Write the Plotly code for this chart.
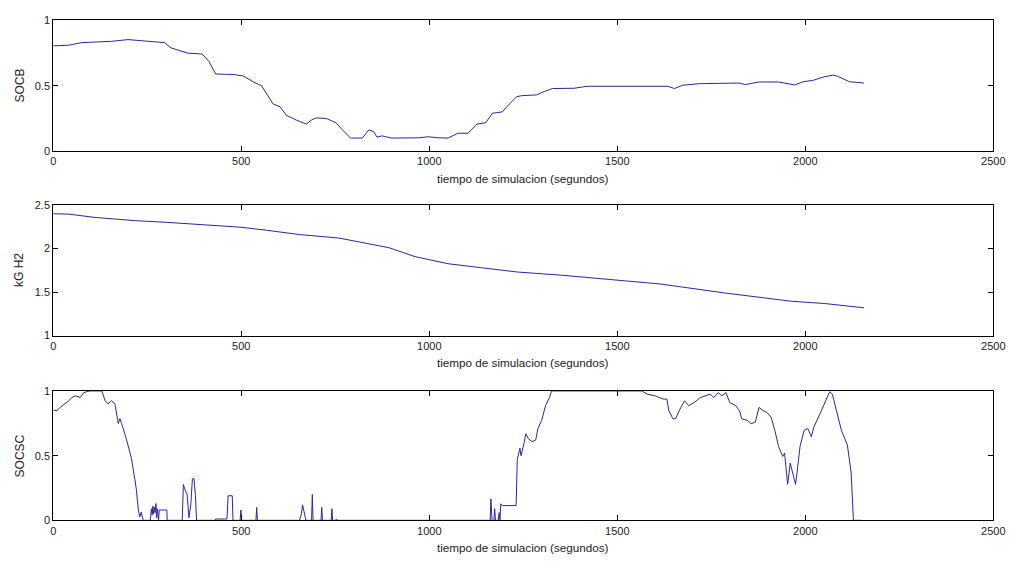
import plotly.graph_objects as go

# ---------------- data ----------------
t_socb = [0, 41, 76, 155, 199, 234, 296, 313, 357, 396, 414, 432, 480, 506, 532, 554, 568, 585, 603, 620,
          647, 673, 686, 699, 726, 752, 769, 791, 822, 839, 852, 861, 874, 900, 971, 997, 1024, 1050, 1076,
          1103, 1127, 1150, 1168, 1194, 1215, 1232, 1245, 1285, 1306, 1328, 1385, 1420, 1525, 1635, 1652,
          1674, 1718, 1771, 1824, 1841, 1876, 1929, 1972, 1994, 2020, 2051, 2073, 2086, 2117, 2156]
socb = [0.805, 0.81, 0.83, 0.84, 0.853, 0.845, 0.83, 0.79, 0.75, 0.743, 0.686, 0.59, 0.586, 0.574, 0.53,
        0.5, 0.44, 0.36, 0.34, 0.274, 0.237, 0.207, 0.237, 0.254, 0.25, 0.217, 0.162, 0.1, 0.1, 0.162, 0.15,
        0.107, 0.117, 0.1, 0.102, 0.11, 0.102, 0.1, 0.137, 0.137, 0.207, 0.217, 0.29, 0.3, 0.366, 0.416,
        0.424, 0.43, 0.456, 0.479, 0.481, 0.496, 0.496, 0.496, 0.479, 0.504, 0.516, 0.521, 0.521, 0.509,
        0.529, 0.529, 0.506, 0.531, 0.541, 0.569, 0.581, 0.573, 0.531, 0.521]

t_h2 = [0, 41, 111, 217, 304, 392, 497, 567, 655, 760, 813, 892, 962, 1006, 1050, 1137, 1234, 1350,
        1500, 1613, 1788, 1963, 2051, 2156]
kg_h2 = [2.399, 2.395, 2.357, 2.32, 2.30, 2.275, 2.245, 2.21, 2.16, 2.12, 2.076, 2.01, 1.907, 1.87,
         1.825, 1.78, 1.73, 1.694, 1.638, 1.593, 1.488, 1.394, 1.368, 1.319]

t_socsc = [0, 10, 19, 32, 41, 50, 59, 72, 81, 90, 98, 129, 138, 146, 155, 164, 173, 177, 182, 195, 208,
           217, 221, 226, 230, 234, 239,
           258, 261, 263, 265, 267, 269, 271, 273, 275, 277, 280, 282, 302, 303,
           343, 346, 350, 356, 361, 366, 370, 374, 378, 381,
           430, 432, 462, 465, 476, 478,
           497, 499, 501,
           539, 541, 543,
           655, 660, 663, 668, 672,
           687, 689, 691,
           712, 714, 716,
           739, 741, 743,
           750, 753, 756,
           1130, 1162, 1164, 1167, 1172, 1174, 1176, 1183, 1186, 1188, 1190, 1195, 1231,
           1234, 1241, 1244, 1252, 1257, 1263, 1273, 1283, 1289, 1299, 1309, 1320, 1325, 1565,
           1580, 1601, 1622, 1632, 1637, 1648, 1655, 1669, 1679, 1690, 1705, 1721, 1736, 1747, 1757,
           1768, 1778, 1789, 1799, 1815, 1825, 1831, 1846, 1856, 1867, 1877, 1888, 1898, 1909, 1919,
           1929, 1940, 1945, 1950, 1953, 1960, 1967, 1974, 1978, 1986, 1997, 2007, 2016, 2023, 2039,
           2055, 2065, 2072, 2086, 2096, 2112, 2122, 2128, 2150]
socsc = [0.85, 0.85, 0.874, 0.9, 0.924, 0.95, 0.962, 0.95, 0.987, 0.995, 1.0, 1.0, 0.924, 0.9, 0.924,
         0.9, 0.748, 0.786, 0.748, 0.622, 0.479, 0.315, 0.24, 0.088, 0.025, 0.063, 0,
         0, 0.09, 0.04, 0.11, 0.05, 0.1, 0.06, 0.13, 0.02, 0.09, 0.0, 0.08, 0.08, 0,
         0, 0.277, 0.24, 0.2, 0.02, 0.126, 0.32, 0.325, 0.2, 0,
         0, 0.01, 0.01, 0.19, 0.19, 0,
         0, 0.08, 0,
         0, 0.1, 0,
         0, 0.05, 0.12, 0.05, 0,
         0, 0.2, 0,
         0, 0.1, 0,
         0, 0.09, 0,
         0, 0.01, 0,
         0, 0, 0.165, 0, 0, 0.09, 0, 0, 0.06, 0, 0.127, 0.114, 0.114,
         0.468, 0.557, 0.5, 0.595, 0.67, 0.633, 0.608, 0.62, 0.709, 0.772, 0.886, 0.95, 1.0, 1.0,
         0.975, 0.962, 0.937, 0.937, 0.848, 0.785, 0.785, 0.873, 0.924, 0.886, 0.911, 0.949, 0.962,
         0.975, 0.949, 0.987, 0.962, 0.987, 0.911, 0.886, 0.848, 0.785, 0.772, 0.747, 0.759, 0.873,
         0.848, 0.835, 0.797, 0.696, 0.57, 0.494, 0.519, 0.367, 0.278, 0.443, 0.367, 0.278, 0.367,
         0.57, 0.696, 0.709, 0.646, 0.722, 0.823, 0.937, 0.995, 0.975, 0.823, 0.696, 0.582, 0.367,
         0, 0]

x_ticks = [0, 500, 1000, 1500, 2000, 2500]
y_ticks_soc = [0, 0.5, 1]
y_ticks_h2 = [1, 1.5, 2, 2.5]
y_titles = ["SOCB", "kG H2", "SOCSC"]
x_title = "tiempo de simulacion (segundos)"

# ---------------- figure ----------------
W, H = 1025, 565
line_color = "rgb(40,40,160)"
font = dict(family="Liberation Sans, Arial, sans-serif", size=11, color="#222")
title_font = dict(family="Liberation Sans, Arial, sans-serif", size=11.7, color="#222")
ytitle_font = dict(family="Liberation Sans, Arial, sans-serif", size=12, color="#222")

fig = go.Figure()
series = [(t_socb, socb), (t_h2, kg_h2), (t_socsc, socsc)]
for i, (t, v) in enumerate(series):
    fig.add_trace(go.Scatter(x=t, y=v, mode="lines", line=dict(color=line_color, width=1),
                             xaxis="x" if i == 0 else f"x{i+1}",
                             yaxis="y" if i == 0 else f"y{i+1}",
                             showlegend=False, hoverinfo="skip"))

x0, x1 = 51 / W, 1005 / W
px_domains = [(14.7, 148.3), (203.3, 336.7), (393.3, 525.5)]
y_ranges = [[0, 1], [1, 2.5], [0, 1]]
y_tickvals = [y_ticks_soc, y_ticks_h2, y_ticks_soc]

layout = dict(width=W, height=H, margin=dict(l=0, r=0, t=0, b=0),
              paper_bgcolor="white", plot_bgcolor="white", font=font)
annotations = []
for i in range(3):
    top, bot = px_domains[i]
    dom = [1 - bot / H, 1 - top / H]
    suf = "" if i == 0 else str(i + 1)
    layout["xaxis" + suf] = dict(domain=[x0, x1], range=[0, 2500], tickvals=x_ticks,
                                 ticktext=[str(v) for v in x_ticks],
                                 showline=True, linecolor="black", linewidth=1, mirror="ticks",
                                 ticks="inside", ticklen=5, tickcolor="black", showgrid=False,
                                 zeroline=False, anchor="y" + suf, tickfont=font, fixedrange=True)
    layout["yaxis" + suf] = dict(domain=dom, range=y_ranges[i], tickvals=y_tickvals[i],
                                 ticktext=[f"{v:g}" for v in y_tickvals[i]],
                                 showline=True, linecolor="black", linewidth=1, mirror="ticks",
                                 ticks="inside", ticklen=5, tickcolor="black", showgrid=False,
                                 zeroline=False, anchor="x" + suf, tickfont=font, fixedrange=True)
    annotations.append(dict(text=x_title, x=528 / W, y=1 - (bot + 28) / H, xref="paper", yref="paper",
                            showarrow=False, font=title_font, xanchor="center", yanchor="middle"))
    annotations.append(dict(text=y_titles[i], x=17 / W, y=1 - ((top + bot) / 2) / H,
                            xref="paper", yref="paper", showarrow=False, font=ytitle_font, textangle=-90,
                            xanchor="center", yanchor="middle"))
layout["annotations"] = annotations
fig.update_layout(**layout)
fig.write_html("out.html")
